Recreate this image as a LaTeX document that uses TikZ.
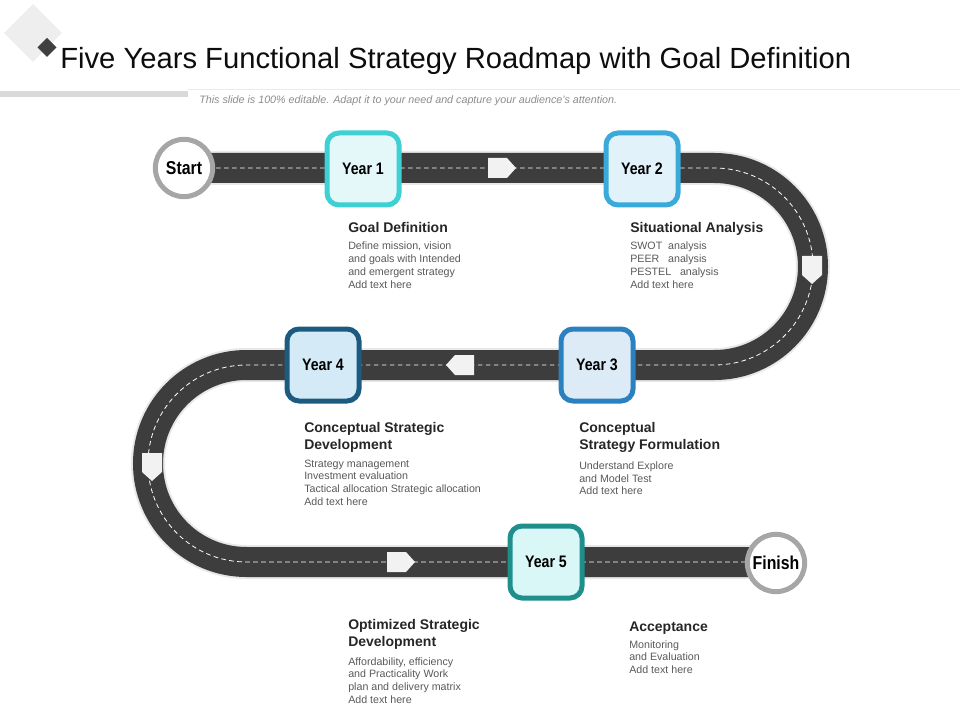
\documentclass[tikz,border=0pt]{standalone}
\usepackage{fontspec}
\setmainfont{Liberation Sans}
\newfontfamily\narrowfont[FakeStretch=0.85]{Liberation Sans}
\usepackage{tikz}
\usetikzlibrary{positioning}
\usepackage{xcolor}
\definecolor{roadgray}{RGB}{61,61,61}
\definecolor{roadshade}{RGB}{232,232,232}
\definecolor{markgray}{RGB}{242,242,242}
\definecolor{ringgray}{RGB}{166,166,166}
\definecolor{headgray}{RGB}{38,38,38}
\definecolor{bodygray}{RGB}{89,89,89}
\definecolor{subgray}{RGB}{140,140,140}
\definecolor{bargray}{RGB}{217,217,217}
\definecolor{linegray}{RGB}{235,235,235}
\definecolor{decogray}{RGB}{238,238,238}
\definecolor{decodark}{RGB}{64,64,64}
\definecolor{yonel}{RGB}{63,208,212}   \definecolor{yonef}{RGB}{228,248,249}
\definecolor{ytwol}{RGB}{58,170,219}   \definecolor{ytwof}{RGB}{226,242,251}
\definecolor{ythreel}{RGB}{43,128,192} \definecolor{ythreef}{RGB}{221,235,247}
\definecolor{yfourl}{RGB}{28,91,127}   \definecolor{yfourf}{RGB}{213,234,247}
\definecolor{yfivel}{RGB}{31,143,140}  \definecolor{yfivef}{RGB}{217,247,247}

\tikzset{
  yearbox/.style={draw, line width=3.75pt, rounded corners=9pt, minimum size=54pt, inner sep=0pt,
    font=\narrowfont\bfseries\fontsize{12.5}{14}\selectfont},
  endcircle/.style={circle, draw=ringgray, line width=3.75pt, fill=white, minimum size=43pt, inner sep=0pt,
    font=\narrowfont\bfseries\fontsize{14}{16}\selectfont},
  head/.style={anchor=north west, inner sep=0pt, align=left, text=headgray,
    font=\bfseries\fontsize{10.5}{12.75}\selectfont},
  body/.style={anchor=north west, inner sep=0pt, align=left, text=bodygray,
    font=\fontsize{8}{9.6}\selectfont},
}

\begin{document}
\begin{tikzpicture}[x=0.75pt, y=-0.75pt]
  \useasboundingbox (0,0) rectangle (960,720);
  % corner mark and title
  \filldraw[fill=decogray, draw=white, line width=3pt] (33,1) -- (65,33) -- (33,65) -- (1,33) -- cycle;
  \fill[decodark] (47,38) -- (56.5,47.5) -- (47,57) -- (37.5,47.5) -- cycle;
  \node (title) [anchor=base west, inner sep=0pt, font=\fontsize{21.9}{26}\selectfont, text=black!95]
    at (60,69) {Five Years Functional Strategy Roadmap with Goal Definition};
  \fill[bargray] (0,91) rectangle (188,97);
  \draw[linegray] (188,89.5) -- (960,89.5);
  \node (subtitle) [anchor=base west, inner sep=0pt, font=\itshape\fontsize{8.05}{9.5}\selectfont, text=subgray]
    at (199,104) {This slide is 100\% editable. Adapt it to your need and capture your audience's attention.};

  % road
  \def\roadroute{(184,168) -- (714.5,168) arc[start angle=-90, end angle=90, radius=98.5]
    -- (246.5,365) arc[start angle=270, end angle=90, radius=98.5] -- (775,562)}
  \draw[roadshade, line width=25.5pt] \roadroute;
  \draw[roadgray, line width=22.5pt] \roadroute;
  \draw[white, line width=0.6pt, dash pattern=on 3.5pt off 2.5pt] \roadroute;
  \foreach \ax/\ay/\ang in {502/168/0, 812/270/-90, 460/365/180, 152/467/-90, 401/562/0} {
    \fill[markgray, shift={(\ax,\ay)}, rotate=\ang] (-14,-10) -- (5,-10) -- (14,0) -- (5,10) -- (-14,10) -- cycle;
  }

  % milestones
  \node (start) [endcircle] at (184,168) {Start};
  \node (finish) [endcircle] at (776,563) {Finish};
  \node (year1) [yearbox, draw=yonel, fill=yonef] at (363,169) {Year 1};
  \node (year2) [yearbox, draw=ytwol, fill=ytwof] at (642,169) {Year 2};
  \node (year3) [yearbox, draw=ythreel, fill=ythreef] at (597,365) {Year 3};
  \node (year4) [yearbox, draw=yfourl, fill=yfourf] at (323,365) {Year 4};
  \node (year5) [yearbox, draw=yfivel, fill=yfivef] at (546,562) {Year 5};

  % descriptions
  \node (goalhead) [head] at (348,222) {Goal Definition};
  \node (goalbody) [body, below=15pt of goalhead.north west, anchor=north west]
    {Define mission, vision\\and goals with Intended\\and emergent strategy\\Add text here};
  \node (sitnhead) [head] at (630,222) {Situational Analysis};
  \node (sitnbody) [body, below=15pt of sitnhead.north west, anchor=north west]
    {SWOT\ \ analysis\\PEER\ \ \ analysis\\PESTEL\ \ \ analysis\\Add text here};
  \node (devhead) [head] at (304,422) {Conceptual Strategic\\Development};
  \node (devbody) [body, below=28pt of devhead.north west, anchor=north west]
    {Strategy management\\Investment evaluation\\Tactical allocation Strategic allocation\\Add text here};
  \node (formhead) [head] at (579,422) {Conceptual\\Strategy Formulation};
  \node (formbody) [body, below=29.5pt of formhead.north west, anchor=north west]
    {Understand Explore\\and Model Test\\Add text here};
  \node (opthead) [head] at (348,619) {Optimized Strategic\\Development};
  \node (optbody) [body, below=28.5pt of opthead.north west, anchor=north west]
    {Affordability, efficiency\\and Practicality Work\\plan and delivery matrix\\Add text here};
  \node (acchead) [head] at (629,622) {Acceptance};
  \node (accbody) [body, below=13.5pt of acchead.north west, anchor=north west]
    {Monitoring\\and Evaluation\\Add text here};
\end{tikzpicture}
\end{document}
